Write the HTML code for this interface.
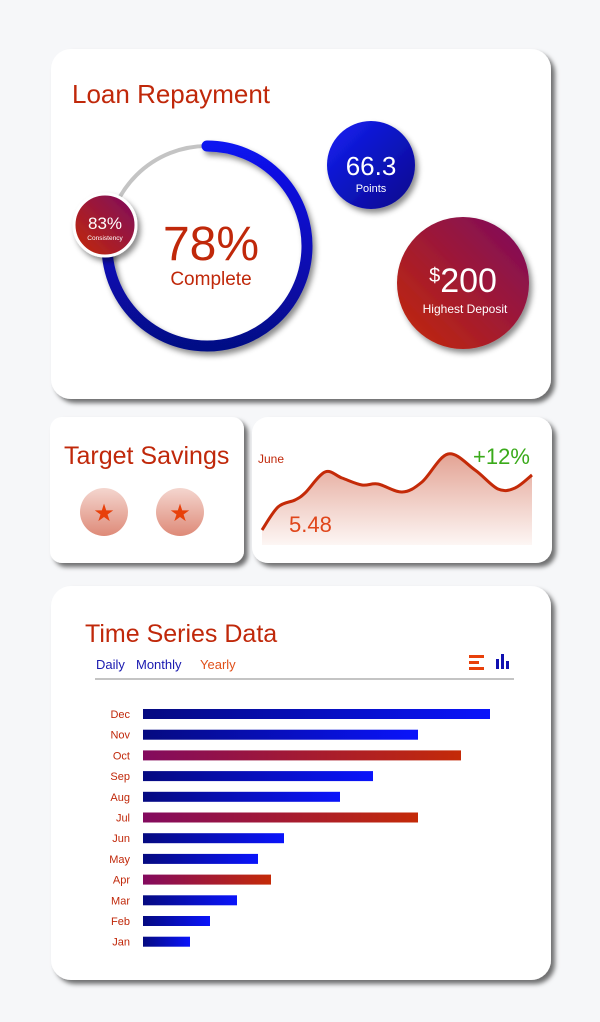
<!DOCTYPE html>
<html><head><meta charset="utf-8"><style>
body{margin:0;background:#f6f7f9;}
svg{display:block;font-family:"Liberation Sans",sans-serif;}
</style></head><body>
<svg id="s" width="600" height="1022" viewBox="0 0 600 1022">
<defs>
<filter id="sh" x="-10%" y="-10%" width="130%" height="130%"><feDropShadow dx="4" dy="4" stdDeviation="2.5" flood-color="#000" flood-opacity="0.55"/></filter>
<filter id="sh2" x="-20%" y="-20%" width="150%" height="150%"><feDropShadow dx="3" dy="4" stdDeviation="3" flood-color="#000" flood-opacity="0.45"/></filter>
<linearGradient id="ring" x1="0" y1="0" x2="0" y2="1"><stop offset="0" stop-color="#0a12f0"/><stop offset="1" stop-color="#060a86"/></linearGradient>
<linearGradient id="rp" x1="0" y1="1" x2="1" y2="0"><stop offset="0" stop-color="#c52a06"/><stop offset="1" stop-color="#7c0a60"/></linearGradient>
<linearGradient id="bl" x1="0" y1="0" x2="1" y2="1"><stop offset="0" stop-color="#1520f5"/><stop offset="1" stop-color="#07088a"/></linearGradient>
<linearGradient id="pink" x1="0" y1="0" x2="0" y2="1"><stop offset="0" stop-color="#f4d6cf"/><stop offset="1" stop-color="#de8a78"/></linearGradient>
<linearGradient id="area" x1="0" y1="0" x2="0" y2="1"><stop offset="0" stop-color="#e3a394"/><stop offset="1" stop-color="#fdf6f4"/></linearGradient>
<linearGradient id="barB" x1="0" y1="0" x2="1" y2="0"><stop offset="0" stop-color="#050a80"/><stop offset="1" stop-color="#0a14fb"/></linearGradient>
<linearGradient id="barR" x1="0" y1="0" x2="1" y2="0"><stop offset="0" stop-color="#830a5e"/><stop offset="1" stop-color="#c42a08"/></linearGradient>
</defs>
<rect x="51" y="49" width="500" height="350" rx="20" fill="#fff" filter="url(#sh)"/>
<rect x="50" y="417" width="194" height="146" rx="12" fill="#fff" filter="url(#sh)"/>
<rect x="252" y="417" width="300" height="146" rx="16" fill="#fff" filter="url(#sh)"/>
<rect x="51" y="586" width="500" height="394" rx="20" fill="#fff" filter="url(#sh)"/>

<text x="72" y="103" font-size="26" fill="#c0280a">Loan Repayment</text>
<g>
<circle cx="207" cy="246" r="100" fill="none" stroke="#c4c4c4" stroke-width="4"/>
<path id="arc" fill="none" stroke="url(#ring)" stroke-width="11" stroke-linecap="round" filter="url(#sh2)"/>
</g>
<text x="211" y="260" text-anchor="middle" font-size="48" fill="#c0280a">78%</text>
<text x="211" y="285" text-anchor="middle" font-size="19" fill="#c0280a">Complete</text>
<g>
<circle cx="105" cy="225" r="31" fill="url(#rp)" stroke="#fff" stroke-width="3" filter="url(#sh2)"/>
<text x="105" y="229" text-anchor="middle" font-size="17" fill="#fff">83%</text>
<text x="105" y="240" text-anchor="middle" font-size="6.5" fill="#fff">Consistency</text>
</g>
<g>
<circle cx="371" cy="165" r="44" fill="url(#bl)" filter="url(#sh2)"/>
<text x="371" y="175" text-anchor="middle" font-size="26" fill="#fff">66.3</text>
<text x="371" y="192" text-anchor="middle" font-size="11" fill="#fff">Points</text>
</g>
<g>
<circle cx="463" cy="283" r="66" fill="url(#rp)" filter="url(#sh2)"/>
<text x="463" y="292" text-anchor="middle" font-size="34" fill="#fff"><tspan font-size="20" dy="-10">$</tspan><tspan dy="10">200</tspan></text>
<text x="465" y="313" text-anchor="middle" font-size="12" fill="#fff">Highest Deposit</text>
</g>

<text x="64" y="464" font-size="25" fill="#c0280a">Target Savings</text>
<g><circle cx="104" cy="512" r="24" fill="url(#pink)"/><text x="104" y="521" text-anchor="middle" font-size="24" fill="#e8400a">★</text></g>
<g><circle cx="180" cy="512" r="24" fill="url(#pink)"/><text x="180" y="521" text-anchor="middle" font-size="24" fill="#e8400a">★</text></g>

<text x="258" y="463" font-size="12" fill="#c0280a">June</text>
<g id="spark"></g>
<text x="289" y="532" font-size="22" fill="#e0451a">5.48</text>
<text x="473" y="464" font-size="22" fill="#3aaa1a">+12%</text>

<text x="85" y="642" font-size="25" fill="#c0280a">Time Series Data</text>
<text x="96" y="669" font-size="13" fill="#1a1ab0">Daily</text>
<text x="136" y="669" font-size="13" fill="#1a1ab0">Monthly</text>
<text x="200" y="669" font-size="13" fill="#e0501a">Yearly</text>
<g fill="#e8400a"><rect x="469" y="655" width="15" height="3"/><rect x="469" y="661" width="10" height="3"/><rect x="469" y="667" width="15" height="3"/></g>
<g fill="#1010b0"><rect x="496" y="659" width="3" height="10"/><rect x="501" y="654" width="3" height="15"/><rect x="506" y="661" width="3" height="8"/></g>
<rect x="95" y="678" width="419" height="2" fill="#c4c4c4"/>
<g id="bars"></g>
</svg>
<script>
const progress = 0.78;
const sparkX = [0, 16, 33, 43, 63, 80, 100, 116, 140, 160, 186, 213, 236, 253, 270];
const sparkValues = [10, 33, 40, 47, 68, 62, 55, 56, 48, 58, 86, 70, 51, 52, 65];
const months = ["Dec","Nov","Oct","Sep","Aug","Jul","Jun","May","Apr","Mar","Feb","Jan"];
const barValues = [347, 275, 318, 230, 197, 275, 141, 115, 128, 94, 67, 47];
const highlight = ["Oct","Jul","Apr"];

const NS="http://www.w3.org/2000/svg";
function mk(t,a,p){const e=document.createElementNS(NS,t);for(const k in a)e.setAttribute(k,a[k]);p.appendChild(e);return e;}

(function(){const cx=207,cy=246,r=100;const a0=-Math.PI/2,a1=a0+progress*2*Math.PI;
const x0=cx+r*Math.cos(a0),y0=cy+r*Math.sin(a0),x1=cx+r*Math.cos(a1),y1=cy+r*Math.sin(a1);
document.getElementById('arc').setAttribute('d',`M${x0},${y0} A${r},${r} 0 ${progress>0.5?1:0} 1 ${x1},${y1}`);})();

(function(){const g=document.getElementById('spark');const left=262,xmax=270,base=545;
const sx=x=>left+x*(270/xmax);const sy=v=>540-v;
const pts=sparkValues.map((v,i)=>[sx(sparkX[i]),sy(v)]);
let d=`M${pts[0][0]},${pts[0][1]}`;
for(let i=0;i<pts.length-1;i++){const p0=pts[Math.max(0,i-1)],p1=pts[i],p2=pts[i+1],p3=pts[Math.min(pts.length-1,i+2)];
d+=` C${p1[0]+(p2[0]-p0[0])/6},${p1[1]+(p2[1]-p0[1])/6} ${p2[0]-(p3[0]-p1[0])/6},${p2[1]-(p3[1]-p1[1])/6} ${p2[0]},${p2[1]}`;}
const last=pts[pts.length-1][0];
const a=mk('path',{d:d+` L${last},${base} L${pts[0][0]},${base} Z`,fill:'url(#area)'},g);


const l=mk('path',{d:d,fill:'none',stroke:'#c42a08','stroke-width':3},g);

})();

(function(){const g=document.getElementById('bars');const x0=143,scale=1,y0=714,step=20.7,h=10;
months.forEach((m,i)=>{const y=y0+i*step;
const t=mk('text',{x:130,y:y+4,'text-anchor':'end','font-size':11,fill:'#c0280a'},g);t.textContent=m;


const b=mk('rect',{x:x0,y:y-h/2,width:barValues[i]*scale,height:h,fill:highlight.includes(m)?'url(#barR)':'url(#barB)'},g);

});})();
</script>
</body></html>
